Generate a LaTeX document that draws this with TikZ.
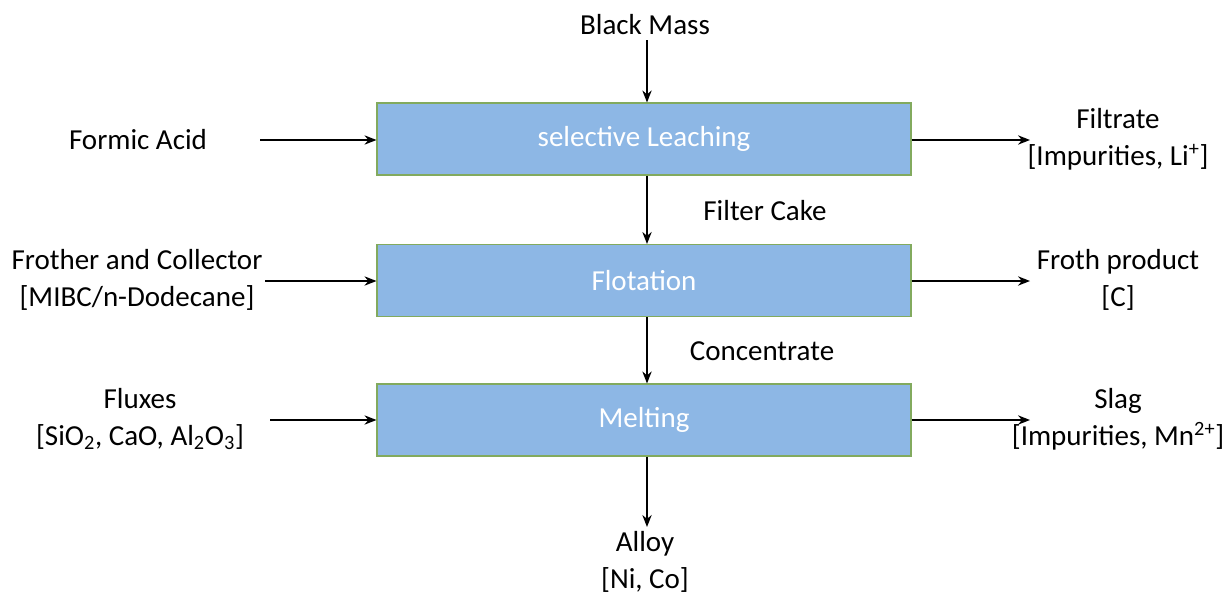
\documentclass[tikz,border=0pt]{standalone}
\usepackage{fontspec}
\setmainfont{Carlito}
\usetikzlibrary{arrows.meta}
\definecolor{boxfill}{HTML}{8DB7E5}
\definecolor{boxline}{HTML}{82AA5E}
\tikzset{
  unit/.style={x=0.75pt,y=-0.75pt},
  process/.style={draw=boxline,line width=0.8pt,fill=boxfill,text=white,
    minimum width=534*0.75pt,minimum height=72*0.75pt,inner sep=0pt},
  label/.style={align=center,inner sep=0pt,text=black},
  flow/.style={line width=1.1pt,-{Stealth[length=9pt,width=7pt]}},
}
\begin{document}
\begin{tikzpicture}[unit,font=\fontsize{21.75}{27.75}\selectfont]
\useasboundingbox (0,0) rectangle (1227,596);

% process steps
\node[process] (leach) at (644,139) {selective Leaching};
\node[process] (flot)  at (644,280.5) {Flotation};
\node[process] (melt)  at (644,420) {Melting};

% main feed and product
\node[label] (bm) at (645,25) {Black Mass};
\node[label] (alloy) at (645,562) {Alloy\\{[}Ni, Co{]}};

% side inputs
\node[label] (fa) at (138,140) {Formic Acid};
\node[label] (fc) at (137,280) {Frother and Collector\\{[}MIBC/n-Dodecane{]}};
\node[label] (fx) at (140,419) {Fluxes\\{[}SiO\textsubscript{2}, CaO, Al\textsubscript{2}O\textsubscript{3}{]}};

% side outputs
\node[label] (ft) at (1118,139) {Filtrate\\{[}Impurities, Li\textsuperscript{+}{]}};
\node[label] (fp) at (1118,280) {Froth product\\{[}C{]}};
\node[label] (sl) at (1118,419) {Slag\\{[}Impurities, Mn\textsuperscript{2+}{]}};

% intermediate stream labels
\node[label] (cake) at (765,211) {Filter Cake};
\node[label] (conc) at (762,351) {Concentrate};

% free ends of the side arrows
\coordinate (faS) at (260,140);
\coordinate (fcS) at (265,281);
\coordinate (fxS) at (270,420);
\coordinate (ftE) at (1030,140);
\coordinate (fpE) at (1030,281);
\coordinate (slE) at (1030,420);
\coordinate (bmS) at (647,40);
\coordinate (alE) at (647,527);

% vertical flow
\draw[flow] (bmS) -- (bmS |- leach.north);
\draw[flow] (leach.south -| bmS) -- (flot.north -| bmS);
\draw[flow] (flot.south -| bmS) -- (melt.north -| bmS);
\draw[flow] (melt.south -| alE) -- (alE);

% inputs
\draw[flow] (faS) -- (faS -| leach.west);
\draw[flow] (fcS) -- (fcS -| flot.west);
\draw[flow] (fxS) -- (fxS -| melt.west);

% outputs
\draw[flow] (ftE -| leach.east) -- (ftE);
\draw[flow] (fpE -| flot.east) -- (fpE);
\draw[flow] (slE -| melt.east) -- (slE);
\end{tikzpicture}
\end{document}
